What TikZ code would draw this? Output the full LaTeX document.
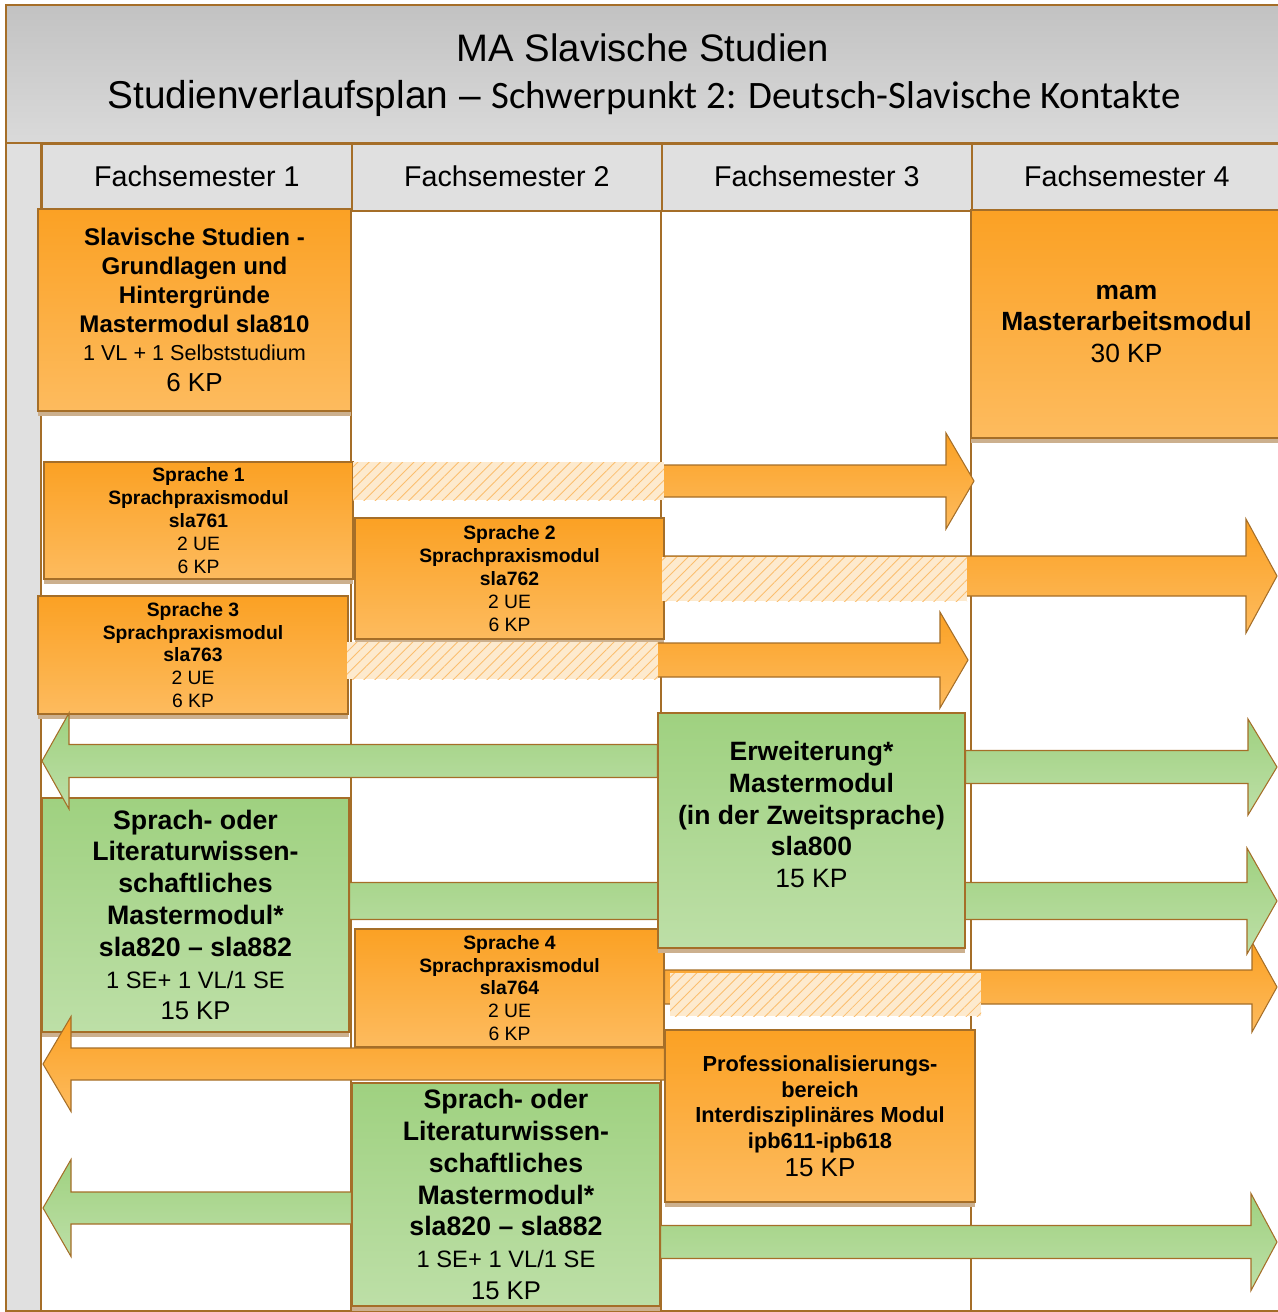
\documentclass[tikz,border=0pt]{standalone}
\usepackage{fontspec}
\setmainfont{Liberation Sans}
\newfontfamily\calfont{Carlito}
\usepackage{tikz}
\usetikzlibrary{patterns.meta,shadows}
\definecolor{frame}{RGB}{165,110,40}
\definecolor{headgray}{RGB}{224,224,224}
\definecolor{titletop}{RGB}{194,194,194}
\definecolor{titlebot}{RGB}{218,218,218}
\definecolor{orangetop}{RGB}{251,161,36}
\definecolor{orangebot}{RGB}{253,187,94}
\definecolor{greentop}{RGB}{159,209,128}
\definecolor{greenbot}{RGB}{189,223,167}
\definecolor{shadowtan}{RGB}{204,176,142}
\definecolor{hatchfill}{RGB}{253,234,206}
\definecolor{hatchline}{RGB}{251,190,110}
\pgfdeclarelayer{front}
\pgfsetlayers{main,front}
% style, start node anchor, tip x, y, body half, head half, head length
\newcommand{\blockarrow}[7]{%
  \path[#1] (#2 |- {0,#4-#5}) -- ({#3-(#7)},{#4-#5}) -- ({#3-(#7)},{#4-#6}) -- (#3,#4)
    -- ({#3-(#7)},{#4+#6}) -- ({#3-(#7)},{#4+#5}) -- (#2 |- {0,#4+#5}) -- cycle;}

\begin{document}
\begin{tikzpicture}[x=0.02cm, y=-0.02cm,
semhead/.style={draw=frame, line width=1pt, fill=headgray, minimum width=6.2cm, minimum height=1.34cm, inner sep=0pt, font=\fontsize{16.3}{19}\selectfont},
modbox/.style={draw=frame, line width=0.8pt, align=center, inner sep=0pt, drop shadow={shadow xshift=0pt, shadow yshift=-3pt, fill=shadowtan, opacity=1}},
orangebox/.style={modbox, top color=orangetop, bottom color=orangebot},
greenbox/.style={modbox, top color=greentop, bottom color=greenbot},
langbox/.style={orangebox, minimum width=6.18cm, minimum height=2.36cm, font=\fontsize{11}{13}\selectfont},
litbox/.style={greenbox, font=\fontsize{15.2}{18.1}\selectfont},
orangearrow/.style={draw=frame, line width=0.6pt, top color=orangetop, bottom color=orangebot},
greenarrow/.style={draw=frame, line width=0.6pt, top color=greentop, bottom color=greenbot},
hatchbar/.style={fill=hatchfill, postaction={pattern={Lines[angle=45,distance=4.5pt,line width=0.5pt]}, pattern color=hatchline}}]
\useasboundingbox (0,0) rectangle (1278,1312);

\fill[top color=titletop, bottom color=titlebot] (6,5) rectangle (1282,143);
\draw[frame, line width=1pt] (6,5) rectangle (1282,1311);
\draw[frame, line width=1pt] (6,143) -- (1282,143);
\node[anchor=base, font=\fontsize{21.8}{26}\selectfont] (title) at (643,61) {MA Slavische Studien};
\node[anchor=base, font=\fontsize{22.1}{26}\selectfont] (subtitle) at (644,108) {Studienverlaufsplan – {\calfont Schwerpunkt 2: Deutsch-Slavische Kontakte}};
\filldraw[fill=headgray, draw=frame, line width=1pt] (6,143) rectangle (41,1311);
\foreach \i/\x in {1/41,2/351,3/661,4/971} {
  \node[semhead, anchor=north west] (sem\i) at (\x,143) {\raisebox{1pt}{Fachsemester \i}};
  \draw[frame, line width=1pt] (\x,210) -- (\x,1311);
}

\node[orangebox, minimum width=6.26cm, minimum height=4.04cm, font=\fontsize{13.7}{16.4}\selectfont] (sla810) at (194.5,310)
  {\textbf{Slavische Studien -}\\\textbf{Grundlagen und}\\\textbf{Hintergründe}\\\textbf{Mastermodul sla810}\\{\fontsize{12.3}{14}\selectfont 1 VL + 1 Selbststudium}\\[1pt]{\fontsize{14.8}{17}\selectfont 6 KP}};
\node[orangebox, minimum width=6.22cm, minimum height=4.56cm, font=\fontsize{15}{17.9}\selectfont] (mam) at (1126.5,324)
  {\textbf{mam}\\\textbf{Masterarbeitsmodul}\\30 KP};
\node[langbox, minimum height=2.34cm] (s1) at (198.5,520.5) {\textbf{Sprache 1}\\\textbf{Sprachpraxismodul}\\\textbf{sla761}\\2 UE\\6 KP};
\node[langbox, minimum height=2.42cm] (s2) at (509.5,578.5) {\textbf{Sprache 2}\\\textbf{Sprachpraxismodul}\\\textbf{sla762}\\2 UE\\6 KP};
\node[langbox, minimum width=6.2cm] (s3) at (193,655) {\textbf{Sprache 3}\\\textbf{Sprachpraxismodul}\\\textbf{sla763}\\2 UE\\6 KP};
\node[litbox, minimum width=6.14cm, minimum height=4.68cm] (lit1) at (195.5,915)
  {\textbf{Sprach- oder}\\\textbf{Literaturwissen-}\\\textbf{schaftliches}\\\textbf{Mastermodul*}\\\textbf{sla820 – sla882}\\{\fontsize{13.5}{16}\selectfont 1 SE+ 1 VL/1 SE}\\{\fontsize{14.6}{17}\selectfont 15 KP}};
\node[langbox] (s4) at (509.5,988) {\textbf{Sprache 4}\\\textbf{Sprachpraxismodul}\\\textbf{sla764}\\2 UE\\6 KP};
\node[orangebox, minimum width=6.2cm, minimum height=3.44cm, font=\fontsize{12.4}{14.7}\selectfont] (prof) at (820,1116)
  {\textbf{Professionalisierungs-}\\\textbf{bereich}\\\textbf{Interdisziplinäres Modul}\\\textbf{ipb611-ipb618}\\[1pt]{\fontsize{14.8}{17}\selectfont 15 KP}};
\node[litbox, minimum width=6.16cm, minimum height=4.46cm] (lit2) at (506,1194.5)
  {\textbf{Sprach- oder}\\\textbf{Literaturwissen-}\\\textbf{schaftliches}\\\textbf{Mastermodul*}\\\textbf{sla820 – sla882}\\{\fontsize{13.5}{16}\selectfont 1 SE+ 1 VL/1 SE}\\{\fontsize{14.6}{17}\selectfont 15 KP}};
\begin{pgfonlayer}{front}
\node[litbox, font=\fontsize{15.1}{18.1}\selectfont, minimum width=6.14cm, minimum height=4.7cm] (erw) at (811.5,830.5)
  {\textbf{Erweiterung*}\\\textbf{Mastermodul}\\\textbf{(in der Zweitsprache)}\\\textbf{sla800}\\15 KP\\\phantom{15 KP}};
\end{pgfonlayer}

\blockarrow{orangearrow}{s1.east}{974}{481}{16}{48}{28}
\blockarrow{orangearrow}{s2.east}{1277}{576}{20}{57}{31}
\blockarrow{orangearrow}{s3.east}{968}{660}{17}{48}{28}
\blockarrow{orangearrow}{s4.east}{1277}{987}{17}{45}{25}
\blockarrow{greenarrow}{erw.west}{42}{761}{16.5}{48}{-27}
\blockarrow{greenarrow}{erw.east}{1277}{767}{16.5}{48}{29}
\blockarrow{greenarrow}{lit1.east}{1277}{901}{18.5}{53}{30}
\blockarrow{orangearrow}{prof.west}{43}{1064}{16}{47.5}{-28}
\blockarrow{greenarrow}{lit2.west}{43}{1208}{16}{48.5}{-28}
\blockarrow{greenarrow}{lit2.east}{1277}{1242}{16.5}{48.5}{26}

\path[hatchbar] (353,462) rectangle (664,500);
\path[hatchbar] (662,557) rectangle (967,601);
\path[hatchbar] (347,642) rectangle (658,679);
\path[hatchbar] (670,973) rectangle (981,1016);
\end{tikzpicture}
\end{document}
